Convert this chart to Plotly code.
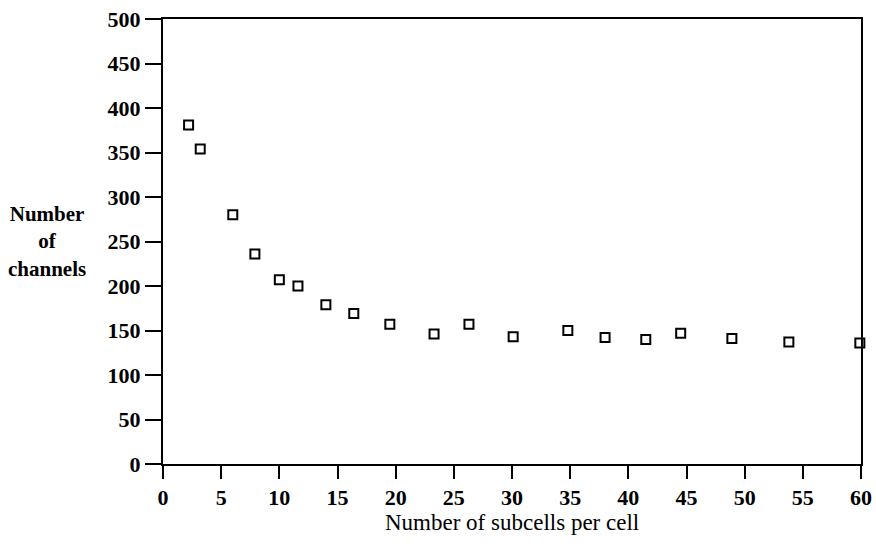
import plotly.graph_objects as go

subcells = [2.2, 3.2, 6.0, 7.9, 10.0, 11.6, 14.0, 16.4, 19.5, 23.3, 26.3, 30.1, 34.8, 38.0, 41.5, 44.5, 48.9, 53.8, 59.9]
channels = [381, 354, 280, 236, 207, 200, 179, 169, 157, 146, 157, 143, 150, 142, 140, 147, 141, 137, 136]

x_ticks = list(range(0, 61, 5))
y_ticks = list(range(0, 501, 50))

FONT = "Liberation Serif"
tickfont = dict(family=FONT, size=22, color="black", weight="bold")

fig = go.Figure()
fig.add_trace(go.Scatter(
    x=subcells, y=channels, mode="markers",
    marker=dict(symbol="square-open", size=9, color="black", line=dict(width=2, color="black")),
    cliponaxis=False, showlegend=False,
))

fig.update_layout(
    width=876, height=544,
    margin=dict(l=163, r=15, t=19, b=80),
    paper_bgcolor="white", plot_bgcolor="white",
    font=dict(family=FONT, size=20, color="black"),
    xaxis=dict(range=[0, 60], tickvals=x_ticks, ticks="outside", ticklen=13, tickwidth=2,
               tickcolor="black", showline=True, linewidth=2, linecolor="black", mirror=True,
               showgrid=False, zeroline=False, tickfont=tickfont, automargin=False,
               ticklabeloverflow="allow"),
    yaxis=dict(range=[0, 500], tickvals=y_ticks, ticks="outside", ticklen=16, tickwidth=2,
               tickcolor="black", showline=True, linewidth=2, linecolor="black", mirror=True,
               showgrid=False, zeroline=False, tickfont=tickfont, automargin=False,
               ticklabeloverflow="allow"),
    annotations=[
        dict(text="<b>Number<br>of<br>channels</b>", xref="paper", yref="paper", x=-0.166, y=0.501,
             xanchor="center", yanchor="middle", showarrow=False, align="center",
             font=dict(family=FONT, size=21, color="black")),
        dict(text="Number of subcells per cell", xref="paper", yref="paper", x=0.5, y=-0.132,
             xanchor="center", yanchor="middle", showarrow=False,
             font=dict(family=FONT, size=23, color="black")),
    ],
)

fig.write_html(
    "out.html",
    config={"displayModeBar": False},
    post_script="document.body.style.margin='0';document.body.style.overflow='hidden';",
)
